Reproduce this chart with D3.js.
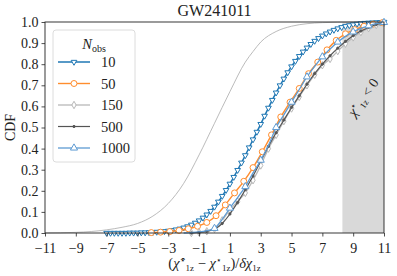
<!DOCTYPE html>
<html>
<head>
<meta charset="utf-8">
<script src="https://cdn.jsdelivr.net/npm/d3@7"></script>
<style>
  body { margin: 0; background: #fff; }
  svg { display: block; }
</style>
</head>
<body>
<div id="chart"></div>
<script>
// tick labels
var xTicks = [-11, -9, -7, -5, -3, -1, 1, 3, 5, 7, 9, 11];
var yTicks = [0, 0.1, 0.2, 0.3, 0.4, 0.5, 0.6, 0.7, 0.8, 0.9, 1.0];
var nObs = ['10', '50', '150', '500', '1000'];
var shadeFrom = 8.3;

// thin grey reference curve
var refX   = [-11, -10, -9, -8, -7, -6, -5, -4, -3, -2, -1, 0, 1, 2, 2.5, 3, 4, 5, 6, 7, 8, 9, 10, 11];
var refCdf = [0.000, 0.001, 0.003, 0.007, 0.015, 0.027, 0.045, 0.080, 0.140, 0.235, 0.370, 0.520, 0.670, 0.810, 0.860, 0.905, 0.955, 0.980, 0.992, 0.997, 0.999, 1.0, 1.0, 1.0];

// N_obs = 10
var n10X = [-7, -6.75, -6.5, -6.25, -6, -5.75, -5.5, -5.25, -5, -4.75, -4.5, -4.25, -4, -3.75, -3.5, -3.25,
  -3, -2.75, -2.5, -2.25, -2, -1.75, -1.5, -1.25, -1, -0.75, -0.5, -0.25, 0, 0.25, 0.5, 0.75, 1, 1.25, 1.5, 1.75,
  2, 2.25, 2.5, 2.75, 3, 3.25, 3.5, 3.75, 4, 4.25, 4.5, 4.75, 5, 5.25, 5.5, 5.75, 6, 6.25, 6.5, 6.75,
  7, 7.25, 7.5, 7.75, 8, 8.25, 8.5, 8.75, 9, 9.25, 9.5, 9.75, 10, 10.25, 10.5, 10.75, 11];
var n10Cdf = [0.000, 0.000, 0.000, 0.000, 0.000, 0.000, 0.001, 0.001, 0.001, 0.002, 0.002, 0.003, 0.004, 0.005, 0.006, 0.008,
  0.010, 0.013, 0.016, 0.020, 0.025, 0.031, 0.039, 0.048, 0.059, 0.072, 0.087, 0.104, 0.124, 0.148, 0.175, 0.203, 0.233, 0.265, 0.298, 0.333,
  0.368, 0.405, 0.443, 0.479, 0.516, 0.555, 0.593, 0.630, 0.665, 0.699, 0.731, 0.761, 0.789, 0.815, 0.838, 0.859, 0.878, 0.895, 0.910, 0.923,
  0.935, 0.945, 0.954, 0.962, 0.969, 0.975, 0.980, 0.984, 0.988, 0.991, 0.993, 0.995, 0.996, 0.997, 0.998, 0.999, 1.000];

// N_obs = 50
var n50X = [-4.1, -3.5, -2.9, -2.3, -1.7, -1.1, -0.5, 0.1, 0.7, 1.3, 1.9, 2.5, 3.1, 3.7, 4.3, 4.9, 5.5, 6.1, 6.7, 7.3, 7.9, 8.5, 9.1, 9.7, 10.3, 10.9];
var n50Cdf = [0.002, 0.004, 0.007, 0.012, 0.020, 0.032, 0.050, 0.082, 0.133, 0.190, 0.245, 0.310, 0.385, 0.465, 0.550, 0.620,
  0.685, 0.755, 0.810, 0.868, 0.913, 0.944, 0.964, 0.980, 0.990, 0.997];

// N_obs = 150
var n150X = [-1.5, -1, -0.5, 0, 0.5, 1, 1.5, 2, 2.5, 3, 3.5, 4, 4.5, 5, 5.5, 6, 6.5, 7, 7.5, 8, 8.5, 9, 9.5, 10, 10.5, 11];
var n150Cdf = [0.000, 0.003, 0.008, 0.020, 0.060, 0.110, 0.150, 0.190, 0.250, 0.320, 0.400, 0.465, 0.530, 0.590, 0.645,
  0.700, 0.750, 0.795, 0.825, 0.862, 0.897, 0.927, 0.952, 0.971, 0.986, 0.996];

// N_obs = 500
var n500X = [-1.5, -1, -0.5, 0, 0.5, 1, 1.5, 2, 2.5, 3, 3.5, 4, 4.5, 5, 5.5, 6, 6.5, 7, 7.5, 8, 8.5, 9, 9.5, 10, 10.5, 11];
var n500Cdf = [0.000, 0.003, 0.008, 0.018, 0.045, 0.090, 0.145, 0.205, 0.270, 0.340, 0.410, 0.475, 0.535, 0.595, 0.650,
  0.705, 0.755, 0.800, 0.840, 0.876, 0.908, 0.935, 0.957, 0.974, 0.988, 0.997];

// N_obs = 1000
var n1000X = [-2, -1.5, -1, -0.5, 0, 0.5, 1, 1.5, 2, 2.5, 3, 3.5, 4, 4.5, 5, 5.5, 6, 6.5, 7, 7.5, 8, 8.5, 9, 9.5, 10, 10.5, 11];
var n1000Cdf = [0.000, 0.002, 0.005, 0.011, 0.022, 0.065, 0.118, 0.168, 0.220, 0.285, 0.345, 0.415, 0.500, 0.560, 0.620,
  0.680, 0.740, 0.790, 0.835, 0.872, 0.905, 0.932, 0.953, 0.970, 0.982, 0.992, 0.998];

var series = [
  { label: nObs[0], xs: n10X, ys: n10Cdf, color: '#1f77b4', width: 1.5, symbol: d3.symbolTriangle, rotate: 180, size: 14, fill: '#fff', every: 1, start: 0 },
  { label: nObs[1], xs: n50X, ys: n50Cdf, color: '#ff8d2e', width: 1.4, symbol: d3.symbolCircle, rotate: 0, size: 28, fill: '#fff', every: 1, start: 0 },
  { label: nObs[2], xs: n150X, ys: n150Cdf, color: '#b8b8b8', width: 1.3, symbol: d3.symbolDiamond, rotate: 0, size: 16, fill: '#fff', every: 1, start: 0 },
  { label: nObs[3], xs: n500X, ys: n500Cdf, color: '#555555', width: 1.2, symbol: d3.symbolCircle, rotate: 0, size: 4, fill: '#555555', every: 1, start: 0 },
  { label: nObs[4], xs: n1000X, ys: n1000Cdf, color: '#5e9bd3', width: 1.3, symbol: d3.symbolTriangle, rotate: 0, size: 22, fill: '#fff', every: 2, start: 4 }
];

var FONT = '"Liberation Serif", "Times New Roman", "DejaVu Serif", serif';

var width = 397, height = 276;
var margin = { top: 22, right: 13, bottom: 43, left: 45 };
var innerW = width - margin.left - margin.right;
var innerH = height - margin.top - margin.bottom;

var x = d3.scaleLinear().domain([-11, 11]).range([0, innerW]);
var y = d3.scaleLinear().domain([0, 1]).range([innerH, 0]);

var svg = d3.select('#chart').append('svg')
    .attr('width', width)
    .attr('height', height)
    .attr('font-family', FONT);

var g = svg.append('g')
    .attr('transform', 'translate(' + margin.left + ',' + margin.top + ')');

// shaded region
g.append('rect')
    .attr('x', x(shadeFrom))
    .attr('y', 0)
    .attr('width', x(11) - x(shadeFrom))
    .attr('height', innerH)
    .attr('fill', '#d9d9d9');

var line = d3.line()
    .x(function(d) { return x(d[0]); })
    .y(function(d) { return y(d[1]); })
    .curve(d3.curveMonotoneX);

g.append('path')
    .datum(d3.zip(refX, refCdf))
    .attr('d', line)
    .attr('fill', 'none')
    .attr('stroke', '#aaaaaa')
    .attr('stroke-width', 0.8);

function symbolPath(s) {
  return d3.symbol().type(s.symbol).size(s.size)();
}

series.forEach(function(s) {
  var pts = d3.zip(s.xs, s.ys);
  var sg = g.append('g');
  sg.append('path')
      .datum(pts)
      .attr('d', line)
      .attr('fill', 'none')
      .attr('stroke', s.color)
      .attr('stroke-width', s.width);
  sg.selectAll('path.mk')
      .data(pts.filter(function(d, i) { return i >= s.start && (i - s.start) % s.every === 0; }))
    .enter().append('path')
      .attr('class', 'mk')
      .attr('d', symbolPath(s))
      .attr('transform', function(d) {
        return 'translate(' + x(d[0]) + ',' + y(d[1]) + ') rotate(' + s.rotate + ')';
      })
      .attr('fill', s.fill)
      .attr('stroke', s.color)
      .attr('stroke-width', 1);
});

// axes
var xAxis = g.append('g')
    .attr('transform', 'translate(0,' + innerH + ')')
    .call(d3.axisBottom(x).tickValues(xTicks).tickSize(3.5).tickPadding(3));
var yAxis = g.append('g')
    .call(d3.axisLeft(y).tickValues(yTicks).tickSize(3.5).tickPadding(3).tickFormat(d3.format('.1f')));

[xAxis, yAxis].forEach(function(a) {
  a.attr('font-family', FONT).attr('font-size', 14);
  a.select('.domain').remove();
  a.selectAll('line').attr('stroke', '#222').attr('stroke-width', 0.8);
  a.selectAll('text').attr('fill', '#222');
});
xAxis.selectAll('text').attr('dy', '0.95em');

g.append('rect')
    .attr('width', innerW)
    .attr('height', innerH)
    .attr('fill', 'none')
    .attr('stroke', '#222')
    .attr('stroke-width', 0.9);

// shaded label
var shadeLabel = g.append('text')
    .attr('transform', 'translate(' + (x(9.9)) + ',' + (y(0.63)) + ') rotate(-55)')
    .attr('text-anchor', 'middle')
    .attr('fill', '#222')
    .attr('font-size', 14);
shadeLabel.append('tspan').attr('font-style', 'italic').text('χ');
shadeLabel.append('tspan').attr('dy', -5).attr('font-size', 9).text('⋆');
shadeLabel.append('tspan').attr('dy', 8).attr('font-size', 9).text('1z');
shadeLabel.append('tspan').attr('dy', -3).text(' < 0');

// legend
var lg = g.append('g').attr('transform', 'translate(8,8)');
lg.append('rect')
    .attr('width', 82)
    .attr('height', 132)
    .attr('rx', 3)
    .attr('fill', '#fff')
    .attr('fill-opacity', 0.85)
    .attr('stroke', '#d8d8d8')
    .attr('stroke-width', 0.9);

var lt = lg.append('text')
    .attr('x', 41)
    .attr('y', 19)
    .attr('text-anchor', 'middle')
    .attr('fill', '#222')
    .attr('font-size', 14.5);
lt.append('tspan').attr('font-style', 'italic').text('N');
lt.append('tspan').attr('dy', 3).attr('font-size', 10).text('obs');

series.forEach(function(s, i) {
  var yy = 32 + i * 21.5;
  lg.append('line')
      .attr('x1', 5).attr('x2', 37)
      .attr('y1', yy).attr('y2', yy)
      .attr('stroke', s.color)
      .attr('stroke-width', s.width);
  lg.append('path')
      .attr('d', symbolPath(s))
      .attr('transform', 'translate(21,' + yy + ') rotate(' + s.rotate + ')')
      .attr('fill', s.fill)
      .attr('stroke', s.color)
      .attr('stroke-width', 1);
  lg.append('text')
      .attr('x', 48)
      .attr('y', yy + 5)
      .attr('fill', '#222')
      .attr('font-size', 14.5)
      .text(s.label);
});

// title and axis labels
svg.append('text')
    .attr('x', margin.left + innerW / 2)
    .attr('y', 16)
    .attr('text-anchor', 'middle')
    .attr('fill', '#222')
    .attr('font-size', 16)
    .text('GW241011');

svg.append('text')
    .attr('transform', 'translate(15,' + (margin.top + innerH / 2) + ') rotate(-90)')
    .attr('text-anchor', 'middle')
    .attr('fill', '#222')
    .attr('font-size', 14)
    .text('CDF');

var xl = svg.append('text')
    .attr('x', margin.left + innerW / 2)
    .attr('y', 268)
    .attr('text-anchor', 'middle')
    .attr('fill', '#222')
    .attr('font-size', 14.5);
xl.append('tspan').text('(');
xl.append('tspan').attr('font-style', 'italic').text('χ̂');
xl.append('tspan').attr('dy', -5).attr('font-size', 9).text('⋆');
xl.append('tspan').attr('dy', 8).attr('font-size', 9).text('1z');
xl.append('tspan').attr('dy', -3).text(' − ');
xl.append('tspan').attr('font-style', 'italic').text('χ');
xl.append('tspan').attr('dy', -5).attr('font-size', 9).text('⋆');
xl.append('tspan').attr('dy', 8).attr('font-size', 9).text('1z');
xl.append('tspan').attr('dy', -3).text(')/');
xl.append('tspan').attr('font-style', 'italic').text('δχ');
xl.append('tspan').attr('dy', 3).attr('font-size', 9).text('1z');
</script>
</body>
</html>
